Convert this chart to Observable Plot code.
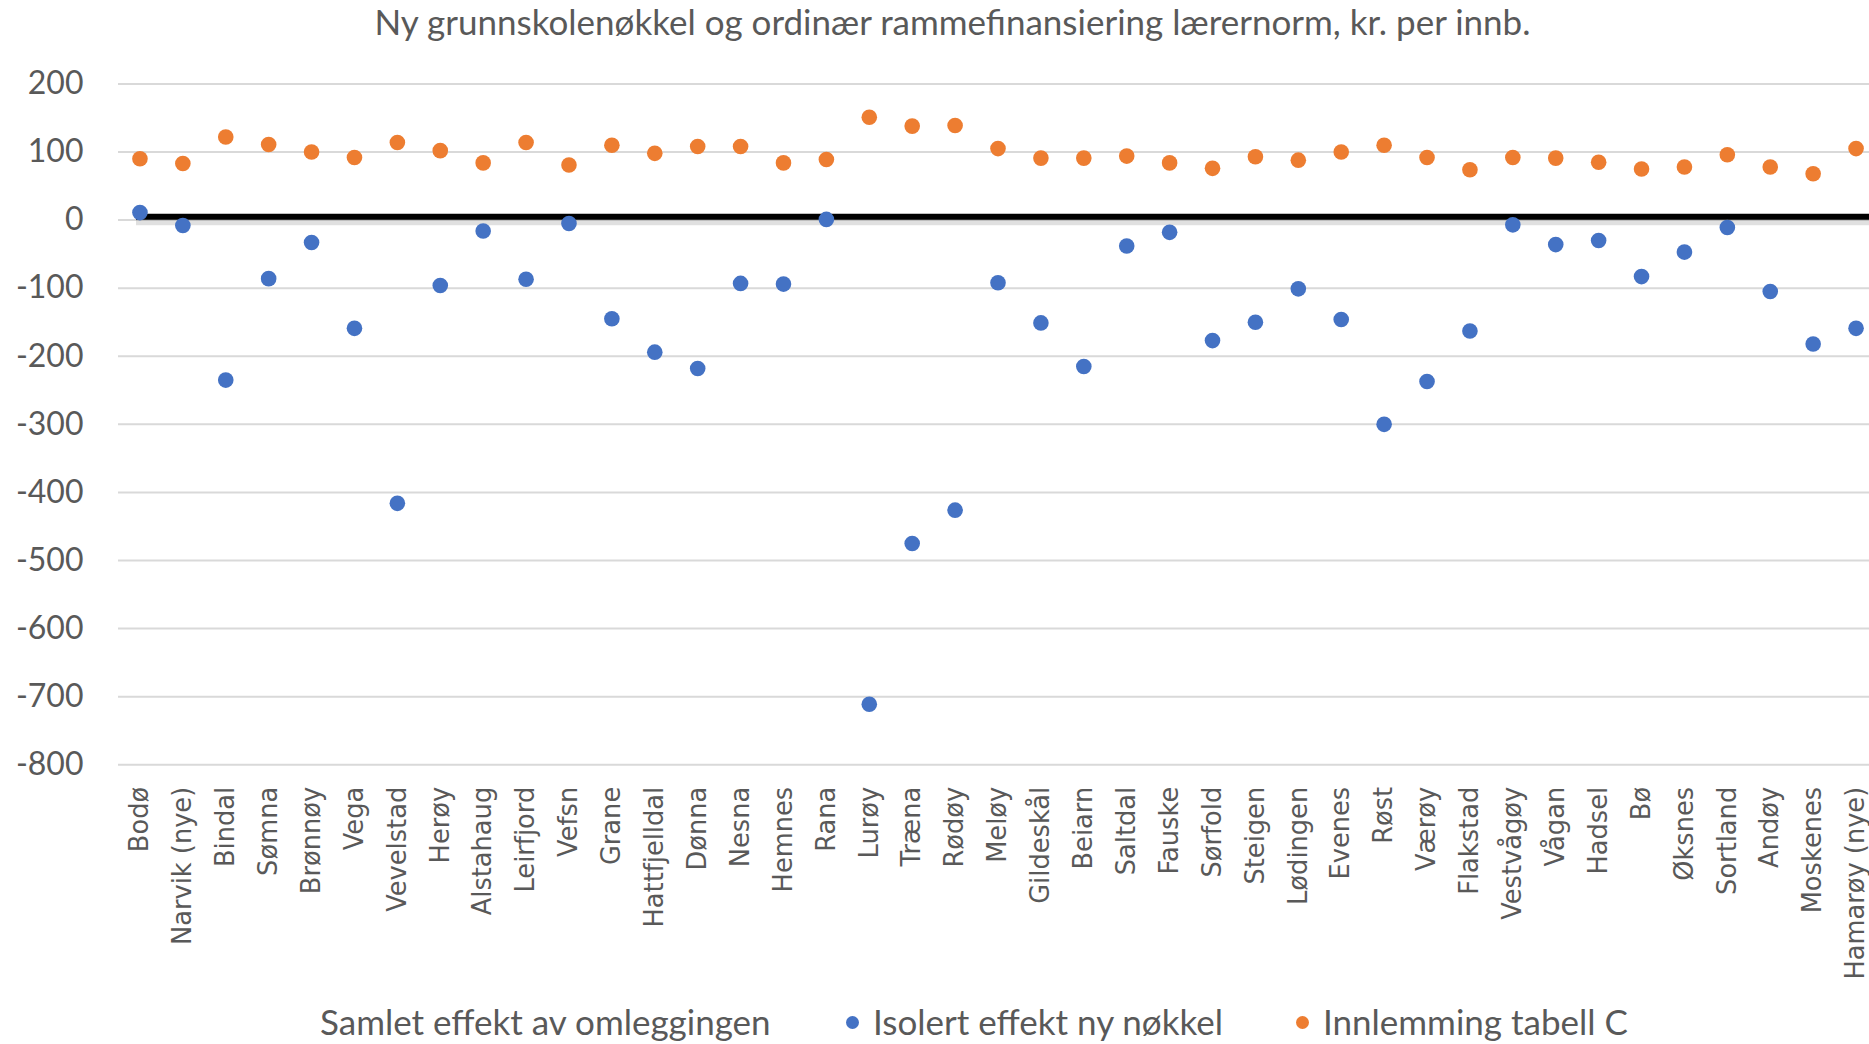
<!DOCTYPE html>
<html>
<head>
<meta charset="utf-8">
<script src="https://cdn.jsdelivr.net/npm/d3@7"></script>
<script src="https://cdn.jsdelivr.net/npm/@observablehq/plot@0.6"></script>
<style>
  html, body { margin: 0; padding: 0; background: #fff; width: 1869px; height: 1044px; overflow: hidden; }
  #title { position: absolute; left: 18px; top: 0; width: 1869px; height: 48px; line-height: 42px; text-align: center;
           font-family: Lato, sans-serif; font-size: 35px; color: #595959; white-space: nowrap; }
  #chart { position: absolute; left: 0; top: 48px; width: 1880px; }
  #chart svg { max-width: none !important; }
  #legend { position: absolute; left: 0; top: 998px; width: 1869px; height: 46px; font-family: Lato, sans-serif;
            font-size: 35px; color: #595959; }
  .item { position: absolute; top: 0; height: 46px; line-height: 46px; white-space: nowrap; }
  .sw { position: absolute; top: 18px; width: 13px; height: 13px; border-radius: 50%; }
</style>
</head>
<body>
<div id="title">Ny grunnskolenøkkel og ordinær rammefinansiering lærernorm, kr. per innb.</div>
<div id="chart"></div>
<div id="legend">
  <span class="item" style="left:320px">Samlet effekt av omleggingen</span>
  <span class="sw" style="left:846px;background:#4472C4"></span>
  <span class="item" style="left:873px">Isolert effekt ny nøkkel</span>
  <span class="sw" style="left:1296px;background:#ED7D31"></span>
  <span class="item" style="left:1323px">Innlemming tabell C</span>
</div>
<script>
const municipalities = ["Bodø","Narvik (nye)","Bindal","Sømna","Brønnøy","Vega","Vevelstad","Herøy","Alstahaug","Leirfjord","Vefsn","Grane","Hattfjelldal","Dønna","Nesna","Hemnes","Rana","Lurøy","Træna","Rødøy","Meløy","Gildeskål","Beiarn","Saltdal","Fauske","Sørfold","Steigen","Lødingen","Evenes","Røst","Værøy","Flakstad","Vestvågøy","Vågan","Hadsel","Bø","Øksnes","Sortland","Andøy","Moskenes","Hamarøy (nye)"];
const isolertEffekt = [11,-8,-235,-86,-33,-159,-416,-96,-16,-87,-5,-145,-194,-218,-93,-94,1,-711,-475,-426,-92,-151,-215,-38,-18,-177,-150,-101,-146,-300,-237,-163,-7,-36,-30,-83,-47,-11,-105,-182,-159];
const innlemmingTabellC = [90,83,122,111,100,92,114,102,84,114,81,110,98,108,108,84,89,151,138,139,105,91,91,94,84,76,93,88,100,110,92,74,92,91,85,75,78,96,78,68,105];
const samletLinje = [5];
const yTicks = [200,100,0,-100,-200,-300,-400,-500,-600,-700,-800];

const isoData = municipalities.map((k, i) => ({kommune: k, verdi: isolertEffekt[i]}));
const innData = municipalities.map((k, i) => ({kommune: k, verdi: innlemmingTabellC[i]}));

const chart = Plot.plot({
  width: 1880,
  height: 948,
  marginLeft: 118,
  marginRight: 3,
  marginTop: 35.4,
  marginBottom: 231.7,
  style: {background: "#fff", color: "#595959", maxWidth: "none"},
  x: {type: "band", domain: municipalities, padding: 0, label: null},
  y: {domain: [-800, 200], label: null},
  marks: [
    Plot.ruleY(yTicks, {stroke: "#d9d9d9", strokeWidth: 2}),
    Plot.axisY({ticks: yTicks, tickSize: 0, tickPadding: 35, fontSize: 32, fontFamily: "Lato", fill: "#595959", tickFormat: d => String(d)}),
    Plot.axisX({tickSize: 0, tickRotate: -90, tickPadding: 22, fontSize: 25.7, fontFamily: "DejaVu Sans", fill: "#595959"}),
    Plot.ruleY(samletLinje, {stroke: "#000", strokeOpacity: 0.12, strokeWidth: 7, dy: 5, insetLeft: 18}),
    Plot.ruleY(samletLinje, {stroke: "#000", strokeWidth: 6, insetLeft: 18}),
    Plot.dot(isoData, {x: "kommune", y: "verdi", r: 7.8, fill: "#4472C4"}),
    Plot.dot(innData, {x: "kommune", y: "verdi", r: 7.8, fill: "#ED7D31"})
  ]
});
document.getElementById("chart").appendChild(chart);
</script>
</body>
</html>
